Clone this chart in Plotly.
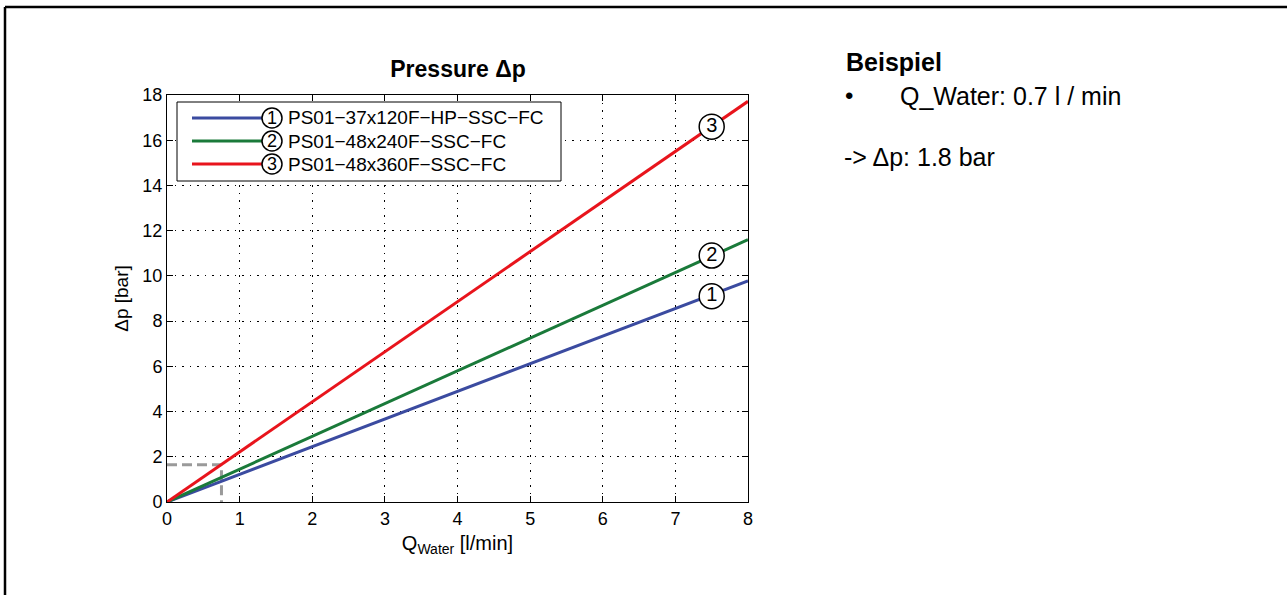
import plotly.graph_objects as go

# Data
q_water = [0, 8]
series_names = ["PS01−37x120F−HP−SSC−FC", "PS01−48x240F−SSC−FC", "PS01−48x360F−SSC−FC"]
series_marks = ["1", "2", "3"]
series_values = [
    [0, 9.78],
    [0, 11.6],
    [0, 17.72],
]
series_colors = ["#3b4ba0", "#1a7a3a", "#e8141c"]
label_x = [7.5, 7.5, 7.5]
label_y = [9.1, 10.9, 16.6]
label_text = ["1", "2", "3"]
example_q = 0.75
example_dp = 1.65

fig = go.Figure()

# example dashed guide
fig.add_trace(go.Scatter(x=[0, example_q, example_q], y=[example_dp, example_dp, 0],
                         mode="lines", line=dict(color="#9a9a9a", width=3, dash="10px,5px"),
                         showlegend=False, hoverinfo="skip"))

for name, vals, col in zip(series_names, series_values, series_colors):
    fig.add_trace(go.Scatter(x=q_water, y=vals, mode="lines", name=name,
                             line=dict(color=col, width=3), showlegend=False))

fig.add_trace(go.Scatter(x=label_x, y=label_y, mode="markers+text", text=label_text,
                         textposition="middle center",
                         textfont=dict(size=20, color="black", family="Liberation Sans"),
                         marker=dict(size=25, color="white", line=dict(color="black", width=1.5)),
                         showlegend=False, hoverinfo="skip"))

axis_common = dict(showline=True, linecolor="black", linewidth=1, mirror="ticks",
                   ticks="inside", ticklen=6, tickcolor="black",
                   showgrid=True, gridcolor="black", griddash="1.5px,6px", gridwidth=1,
                   zeroline=False, tickfont=dict(size=18, color="black", family="Liberation Sans"))

px0 = 167; pw = 581; py0 = 502; ph = 407
def xp(px):
    return (px - px0) / pw
def yp(py):
    return (py0 - py) / ph

fig.update_layout(
    width=1287, height=595,
    margin=dict(l=167, r=539, t=95, b=93),
    paper_bgcolor="white", plot_bgcolor="white",
    font=dict(family="Liberation Sans", color="black"),
    title=dict(text="<b>Pressure Δp</b>", x=458 / 1287, xanchor="center",
               y=1 - 69 / 595, yanchor="middle", font=dict(size=23)),
    xaxis=dict(range=[0, 8], dtick=1, **axis_common,
               title=dict(text="Q<sub>Water</sub> [l/min]", font=dict(size=20), standoff=8)),
    yaxis=dict(range=[0, 18], dtick=2, **axis_common,
               title=dict(text="Δp [bar]", font=dict(size=19), standoff=8)),
    showlegend=False,
)

# manual legend box
fig.add_shape(type="rect", xref="paper", yref="paper", x0=xp(177), x1=xp(561), y0=yp(102), y1=yp(181),
              line=dict(color="black", width=1), fillcolor="white", layer="above")
leg_y = [118, 141, 164]
for name, mark, col, ly in zip(series_names, series_marks, series_colors, leg_y):
    fig.add_shape(type="line", xref="paper", yref="paper", x0=xp(192), x1=xp(262), y0=yp(ly), y1=yp(ly),
                  line=dict(color=col, width=3), layer="above")
    fig.add_shape(type="circle", xref="paper", yref="paper", x0=xp(262), x1=xp(282),
                  y0=yp(ly + 10), y1=yp(ly - 10), line=dict(color="black", width=1.5),
                  fillcolor="white", layer="above")
    fig.add_annotation(xref="paper", yref="paper", x=xp(272), y=yp(ly), xanchor="center", yanchor="middle",
                       text=mark, showarrow=False, font=dict(size=18, color="black"))
    fig.add_annotation(xref="paper", yref="paper", x=xp(286), y=yp(ly), xanchor="left", yanchor="middle",
                       text=name, showarrow=False, font=dict(size=19, color="black"))

# outer frame (left and top edges)
fig.add_shape(type="line", xref="paper", yref="paper", x0=xp(5), x1=xp(1300), y0=yp(7), y1=yp(7),
              line=dict(color="black", width=2.5))
fig.add_shape(type="line", xref="paper", yref="paper", x0=xp(5), x1=xp(5), y0=yp(7), y1=yp(600),
              line=dict(color="black", width=2.5))

# right-hand notes
fig.add_annotation(xref="paper", yref="paper", x=xp(844), y=yp(62), xanchor="left", yanchor="middle",
                   text="<b>Beispiel</b>", showarrow=False, font=dict(size=25, color="black"))
fig.add_annotation(xref="paper", yref="paper", x=xp(843), y=yp(96), xanchor="left", yanchor="middle",
                   text="•", showarrow=False, font=dict(size=24, color="black"))
fig.add_annotation(xref="paper", yref="paper", x=xp(898), y=yp(96), xanchor="left", yanchor="middle",
                   text="Q_Water: 0.7 l / min", showarrow=False, font=dict(size=25, color="black"))
fig.add_annotation(xref="paper", yref="paper", x=xp(842), y=yp(157), xanchor="left", yanchor="middle",
                   text="-> Δp: 1.8 bar", showarrow=False, font=dict(size=25, color="black"))

fig.write_html("out.html")
